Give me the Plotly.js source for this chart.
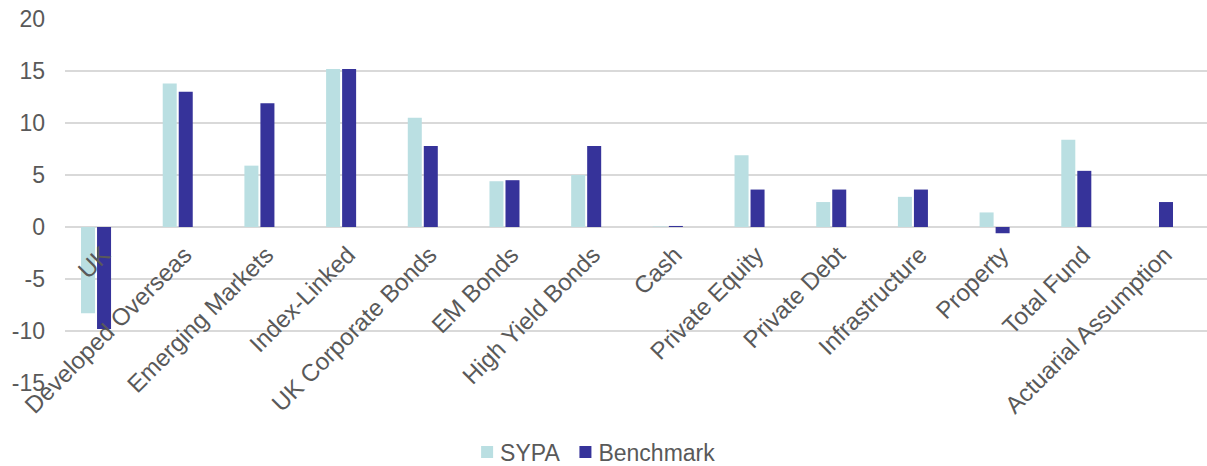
<!DOCTYPE html>
<html>
<head>
<meta charset="utf-8">
<script src="https://cdn.plot.ly/plotly-3.0.1.min.js"></script>
<style>
  html, body { margin: 0; padding: 0; background: #fff; }
  #chart { width: 1207px; height: 466px; }
</style>
</head>
<body>
<div id="chart"></div>
<script>
// Asset classes and one-year returns (%)
const categories = [
  "UK", "Developed Overseas", "Emerging Markets", "Index-Linked",
  "UK Corporate Bonds", "EM Bonds", "High Yield Bonds", "Cash",
  "Private Equity", "Private Debt", "Infrastructure", "Property",
  "Total Fund", "Actuarial Assumption"
];
const sypa = [-8.3, 13.8, 5.9, 15.2, 10.5, 4.4, 5.0, 0.05, 6.9, 2.4, 2.9, 1.4, 8.4, null];
const benchmark = [-9.8, 13.0, 11.9, 15.2, 7.8, 4.5, 7.8, 0.1, 3.6, 3.6, 3.6, -0.6, 5.4, 2.4];
const yTicks = [-15, -10, -5, 0, 5, 10, 15, 20];

const FONT = "Liberation Sans, Arial, sans-serif";
const TEXT = "#595959";
const GRID = "#D9D9D9";
const yMin = -15, yMax = 20;

const traces = [
  {
    type: "bar", name: "SYPA", x: categories, y: sypa,
    marker: { color: "#BADFE2" },
    hoverinfo: "x+y"
  },
  {
    type: "bar", name: "Benchmark", x: categories, y: benchmark,
    marker: { color: "#36339A" },
    hoverinfo: "x+y"
  }
];

const layout = {
  width: 1207, height: 466,
  margin: { l: 65, r: 0, t: 19, b: 83 },
  paper_bgcolor: "#FFFFFF", plot_bgcolor: "#FFFFFF",
  font: { family: FONT, color: TEXT, size: 23 },
  barmode: "group",
  bargap: 0.608,
  bargroupgap: 0.125,
  showlegend: true,
  legend: {
    orientation: "h",
    xref: "container", yref: "container",
    x: 0.387, xanchor: "left",
    y: 0.03, yanchor: "middle",
    font: { family: FONT, size: 23, color: TEXT },
    itemwidth: 30, traceorder: "normal"
  },
  xaxis: {
    type: "category",
    range: [-0.38, 13.6],
    anchor: "free",
    position: (0 - yMin) / (yMax - yMin), // category labels sit on the zero line
    showgrid: false, showline: false, ticks: "",
    tickangle: -45,
    ticklabelstandoff: 8,
    ticklabelshift: 7,
    tickfont: { family: FONT, size: 24, color: TEXT },
    automargin: false,
    fixedrange: true
  },
  yaxis: {
    range: [yMin, yMax],
    tickvals: yTicks,
    ticktext: yTicks.map(String),
    showgrid: true, gridcolor: GRID, gridwidth: 1.5,
    zeroline: true, zerolinecolor: GRID, zerolinewidth: 1.5,
    showline: false, ticks: "",
    ticklabelstandoff: 19,
    tickfont: { family: FONT, size: 23, color: TEXT },
    automargin: false,
    fixedrange: true
  }
};

Plotly.newPlot("chart", traces, layout, { displayModeBar: false, staticPlot: true }).then(function (gd) {
  // Tighten the legend: pull each label closer to its swatch
  const items = gd.querySelectorAll(".legend .traces");
  items.forEach(function (item, i) {
    const txt = item.querySelector(".legendtext");
    if (txt) txt.setAttribute("x", "33");
    const tr = item.getAttribute("transform") || "";
    const m = tr.match(/translate\(([-\d.]+)[ ,]+([-\d.]+)\)/);
    if (m) item.setAttribute("transform", "translate(" + (parseFloat(m[1]) - 7 * i) + "," + m[2] + ")");
  });
});
</script>
</body>
</html>
